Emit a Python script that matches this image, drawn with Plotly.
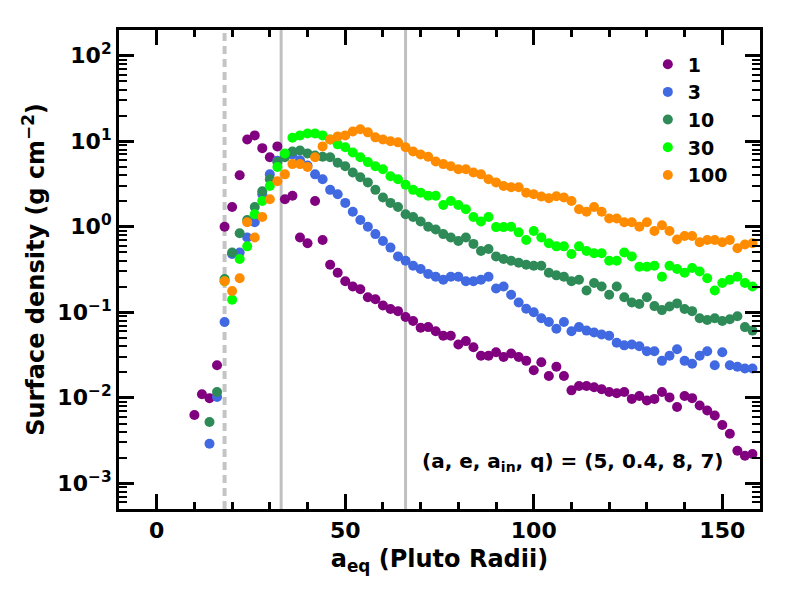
import plotly.graph_objects as go

# equatorial semimajor axis (Pluto radii), shared by all runs
A_EQ = [10, 12, 14, 16, 18, 20, 22, 24, 26, 28,
        30, 32, 34, 36, 38, 40, 42, 44, 46, 48,
        50, 52, 54, 56, 58, 60, 62, 64, 66, 68,
        70, 72, 74, 76, 78, 80, 82, 84, 86, 88,
        90, 92, 94, 96, 98, 100, 102, 104, 106, 108,
        110, 112, 114, 116, 118, 120, 122, 124, 126, 128,
        130, 132, 134, 136, 138, 140, 142, 144, 146, 148,
        150, 152, 154, 156, 158]

# surface density (g cm^-2) for each run label
SIGMA_1 = [0.0063, 0.011, 0.0099, 0.024, 1.0, 1.7, 4.0, 10.5, 11.7, 8.3,
           6.5, 8.7, 2.1, 2.3, 0.75, 0.64, 2.0, 0.70, 0.36, 0.29,
           0.23, 0.20, 0.186, 0.15, 0.142, 0.12, 0.109, 0.103, 0.088, 0.079,
           0.066, 0.067, 0.060, 0.053, 0.053, 0.042, 0.046, 0.039, 0.031, 0.031,
           0.034, 0.030, 0.033, 0.030, 0.027, 0.021, 0.026, 0.018, 0.023, 0.018,
           0.0122, 0.0137, 0.0137, 0.0133, 0.0126, 0.0117, 0.0113, 0.0117, 0.0097, 0.0105,
           0.0093, 0.0097, 0.0117, 0.0101, 0.0078, 0.0105, 0.0099, 0.0081, 0.0071, 0.0062,
           0.0048, 0.0038, 0.0024, 0.0021, 0.0022]

SIGMA_3 = [None, None, 0.0029, 0.0102, 0.077, 0.48, 0.50, 0.75, 1.13, 2.4,
           4.1, 5.9, 7.0, 7.0, 6.0, 5.2, 4.1, 3.6, 2.7, 2.4,
           1.9, 1.5, 1.2, 1.0, 0.82, 0.68, 0.57, 0.45, 0.40, 0.35,
           0.32, 0.28, 0.26, 0.24, 0.26, 0.26, 0.23, 0.23, 0.24, 0.26,
           0.19, 0.20, 0.16, 0.13, 0.11, 0.10, 0.085, 0.077, 0.064, 0.077,
           0.060, 0.067, 0.061, 0.058, 0.055, 0.053, 0.044, 0.041, 0.042, 0.040,
           0.035, 0.035, 0.027, 0.031, 0.037, 0.027, 0.025, 0.031, 0.035, 0.024,
           0.034, 0.024, 0.023, 0.022, 0.022]

SIGMA_10 = [None, None, 0.0052, 0.0117, 0.245, 0.50, 0.84, 1.2, 1.7, 2.6,
            3.6, 5.7, 6.5, 7.6, 7.8, 7.2, 6.8, 6.6, 6.5, 5.6,
            5.1, 4.3, 3.8, 3.3, 2.7, 2.2, 1.9, 1.7, 1.4, 1.3,
            1.15, 1.0, 0.93, 0.82, 0.75, 0.68, 0.75, 0.63, 0.52, 0.55,
            0.45, 0.42, 0.40, 0.38, 0.36, 0.35, 0.35, 0.29, 0.27, 0.26,
            0.23, 0.24, 0.18, 0.22, 0.20, 0.16, 0.20, 0.15, 0.13, 0.125,
            0.15, 0.118, 0.106, 0.117, 0.127, 0.109, 0.103, 0.085, 0.081, 0.085,
            0.079, 0.083, 0.090, 0.067, 0.061]

SIGMA_30 = [None, None, None, None, 0.23, 0.14, 0.42, 0.59, 1.4, 2.0,
            3.0, 5.0, 7.2, 11.0, 11.7, 12.3, 12.3, 11.7, 10.5, 9.2,
            8.5, 7.4, 6.5, 5.7, 5.1, 4.7, 3.9, 3.6, 3.1, 2.7,
            2.5, 2.3, 2.3, 1.8, 2.0, 1.8, 1.6, 1.3, 1.15, 1.3,
            0.99, 0.99, 1.0, 0.86, 0.70, 0.89, 0.75, 0.64, 0.59, 0.59,
            0.48, 0.59, 0.52, 0.49, 0.49, 0.40, 0.40, 0.50, 0.45, 0.34,
            0.34, 0.35, 0.26, 0.35, 0.32, 0.29, 0.33, 0.30, 0.25, 0.18,
            0.22, 0.24, 0.26, 0.22, 0.20]

SIGMA_100 = [None, None, None, None, 0.23, 0.177, 0.25, 1.13, 0.75, 1.3,
             2.1, 3.4, 4.1, 5.4, 5.4, 5.0, 6.5, 8.7, 10.5, 11.4,
             11.7, 13.0, 13.8, 12.7, 11.1, 10.5, 10.0, 9.7, 8.5, 7.6,
             7.0, 6.6, 5.8, 5.4, 5.1, 4.7, 4.7, 4.3, 4.1, 3.6,
             3.3, 3.0, 2.9, 2.9, 2.5, 2.4, 2.26, 2.15, 2.27, 2.2,
             2.0, 1.6, 1.5, 1.7, 1.5, 1.25, 1.25, 1.13, 1.13, 1.0,
             1.13, 0.89, 1.04, 0.89, 0.71, 0.78, 0.78, 0.66, 0.70, 0.70,
             0.66, 0.70, 0.56, 0.62, 0.64]

RUN_LABELS = ["1", "3", "10", "30", "100"]
RUN_COLORS = ["purple", "royalblue", "seagreen", "lime", "darkorange"]

MARKER_LINES = [33, 66]   # solid grey lines
INNER_EDGE = 18           # dashed grey line

Y_TICKS = [1e-3, 1e-2, 1e-1, 1e0, 1e1, 1e2]
Y_TICK_TEXT = ["10<sup>\u22123</sup>", "10<sup>\u22122</sup>", "10<sup>\u22121</sup>",
               "10<sup>0</sup>", "10<sup>1</sup>", "10<sup>2</sup>"]

FONT = "DejaVu Sans"

fig = go.Figure()

for label, color, sigma in zip(RUN_LABELS, RUN_COLORS,
                               [SIGMA_1, SIGMA_3, SIGMA_10, SIGMA_30, SIGMA_100]):
    fig.add_trace(
        go.Scatter(
            x=A_EQ,
            y=sigma,
            mode="markers",
            name=label,
            marker={"color": color, "size": 10, "line": {"width": 0}},
        )
    )

for xv in MARKER_LINES:
    fig.add_shape(type="line", xref="x", yref="paper", x0=xv, x1=xv, y0=0, y1=1,
                  line={"color": "#c0c0c0", "width": 3}, layer="below")
fig.add_shape(type="line", xref="x", yref="paper", x0=INNER_EDGE, x1=INNER_EDGE, y0=0, y1=1,
              line={"color": "#c4c4c4", "width": 4, "dash": "8px,5px"}, layer="below")

fig.add_annotation(
    text="(a, e, a<sub>in</sub>, q) = (5, 0.4, 8, 7)",
    xref="paper", yref="paper", x=0.708, y=0.098,
    xanchor="center", yanchor="middle", showarrow=False,
    font={"family": FONT, "size": 20, "color": "black", "weight": "bold"},
)

axis_common = dict(
    showline=True, linewidth=3, linecolor="black", mirror="allticks",
    ticks="inside", tickcolor="black", tickwidth=3, ticklen=15,
    showgrid=False, zeroline=False,
    tickfont={"family": FONT, "size": 22, "color": "black", "weight": "bold"},
)

fig.update_xaxes(
    range=[-10, 160], dtick=50, tick0=0,
    minor={"dtick": 10, "ticks": "inside", "ticklen": 7, "tickwidth": 3,
           "tickcolor": "black", "showgrid": False},
    title={"text": "a<sub>eq</sub> (Pluto Radii)", "standoff": 8,
           "font": {"family": FONT, "size": 24, "color": "black", "weight": "bold"}},
    **axis_common,
)
fig.update_yaxes(
    type="log", range=[-3.301, 2.301],
    tickvals=Y_TICKS, ticktext=Y_TICK_TEXT,
    minor={"dtick": "D1", "ticks": "inside", "ticklen": 8, "tickwidth": 2,
           "tickcolor": "black", "showgrid": False},
    title={"text": "Surface density (g cm<sup>\u22122</sup>)", "standoff": 6,
           "font": {"family": FONT, "size": 24, "color": "black", "weight": "bold"}},
    **axis_common,
)

# the page body adds an 8px offset, so the figure is a little smaller than the window
fig.update_layout(
    width=792, height=592,
    margin={"l": 111, "r": 40, "t": 22, "b": 91},
    plot_bgcolor="white", paper_bgcolor="white",
    legend={"x": 0.825, "y": 0.968, "xanchor": "left", "yanchor": "top",
            "bgcolor": "rgba(0,0,0,0)", "borderwidth": 0,
            "font": {"family": FONT, "size": 19, "color": "black", "weight": "bold"}},
)

fig.write_html("out.html")
